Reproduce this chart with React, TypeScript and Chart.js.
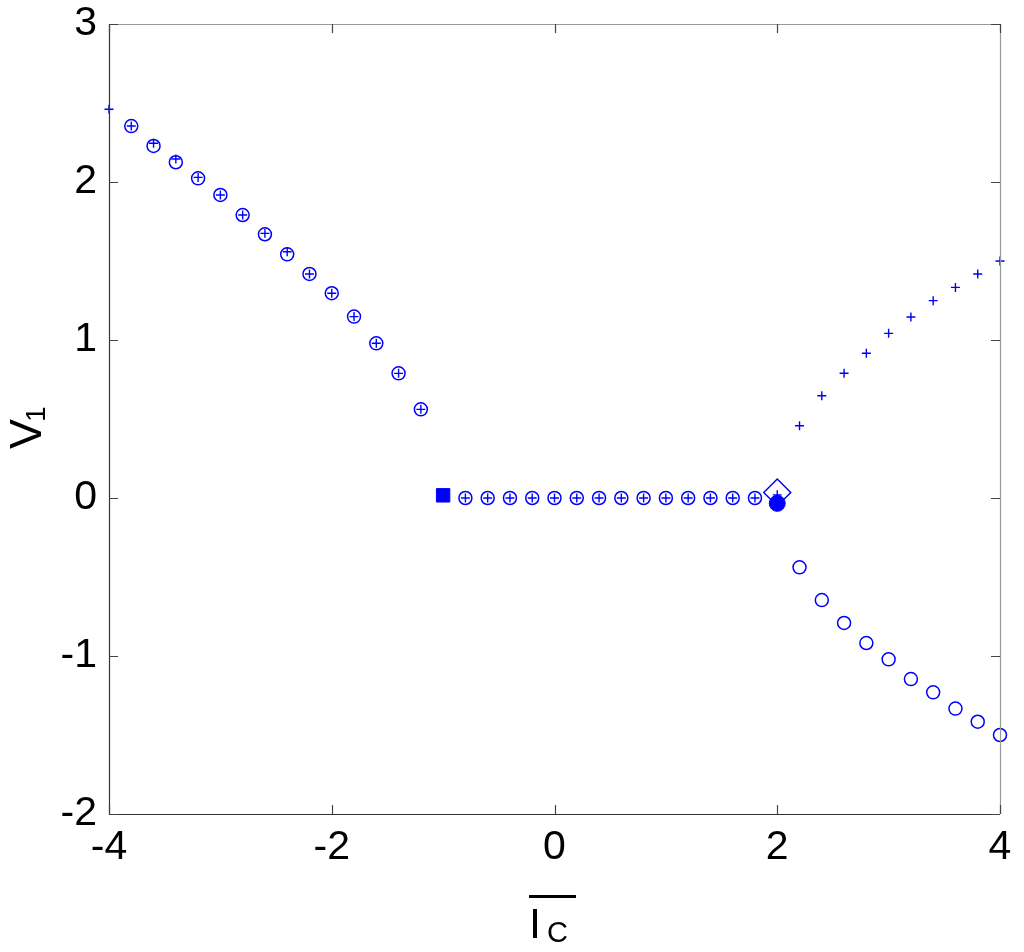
import React, { useEffect, useRef } from "react";
import { Chart, registerables } from "chart.js";

Chart.register(...registerables);

// Stable branch (circles and pluses overlap), left side
const leftX = [-3.8, -3.6, -3.4, -3.2, -3.0, -2.8, -2.6, -2.4, -2.2, -2.0, -1.8, -1.6, -1.4, -1.2];
const leftCircleY = [2.354, 2.228, 2.125, 2.023, 1.918, 1.791, 1.669, 1.542, 1.418, 1.296, 1.148, 0.979, 0.789, 0.561];
const leftPlusX = [-4.0, -3.8, -3.6, -3.4, -3.2, -3.0, -2.8, -2.6, -2.4, -2.2, -2.0, -1.8, -1.6, -1.4, -1.2];
const leftPlusY = [2.46, 2.354, 2.245, 2.146, 2.029, 1.918, 1.791, 1.675, 1.559, 1.418, 1.296, 1.148, 0.979, 0.789, 0.561];

// Middle branch V1 = 0
const midX = [-0.8, -0.6, -0.4, -0.2, 0.0, 0.2, 0.4, 0.6, 0.8, 1.0, 1.2, 1.4, 1.6, 1.8];
const midY = [0, 0, 0, 0, 0, 0, 0, 0, 0, 0, 0, 0, 0, 0];

// Right side: bifurcated branches
const rightX = [2.2, 2.4, 2.6, 2.8, 3.0, 3.2, 3.4, 3.6, 3.8, 4.0];
const rightPlusY = [0.457, 0.647, 0.79, 0.916, 1.042, 1.146, 1.249, 1.333, 1.418, 1.5];
const rightCircleY = [-0.439, -0.646, -0.791, -0.918, -1.021, -1.146, -1.23, -1.333, -1.416, -1.5];

// Special points
const squarePoint = { x: -1.0, y: 0.017 };
const diamondPoint = { x: 2.0, y: 0.035 };
const filledPoint = { x: 2.0, y: -0.034 };
const plusAtTwo = { x: 2.0, y: 0.02 };

// Axis ticks
const xTicks = [-4, -2, 0, 2, 4];
const yTicks = [-2, -1, 0, 1, 2, 3];

const BLUE = "#0000ff";
const FONT = "'Liberation Sans', Arial, sans-serif";

const zip = (xs: number[], ys: number[]) => xs.map((x, i) => ({ x, y: ys[i] }));

const framePlugin = {
  id: "matlabFrame",
  afterDraw(chart: any) {
    const { ctx, chartArea } = chart;
    const { left, right, top, bottom } = chartArea;
    const xs = chart.scales.x;
    const ys = chart.scales.y;
    ctx.save();
    // frame
    ctx.lineWidth = 1.2;
    ctx.strokeStyle = "#999999";
    ctx.beginPath();
    ctx.moveTo(left, top + 0.5);
    ctx.lineTo(right + 0.5, top + 0.5);
    ctx.lineTo(right + 0.5, bottom);
    ctx.stroke();
    ctx.strokeStyle = "#333333";
    ctx.beginPath();
    ctx.moveTo(left + 0.5, top);
    ctx.lineTo(left + 0.5, bottom + 0.5);
    ctx.lineTo(right, bottom + 0.5);
    ctx.stroke();
    // ticks inward
    const tl = 9;
    ctx.strokeStyle = "#444444";
    ctx.lineWidth = 1.2;
    ctx.beginPath();
    for (const v of xTicks) {
      const px = Math.round(xs.getPixelForValue(v)) + 0.5;
      ctx.moveTo(px, bottom);
      ctx.lineTo(px, bottom - tl);
      ctx.moveTo(px, top);
      ctx.lineTo(px, top + tl);
    }
    for (const v of yTicks) {
      const py = Math.round(ys.getPixelForValue(v)) + 0.5;
      ctx.moveTo(left, py);
      ctx.lineTo(left + tl, py);
      ctx.moveTo(right, py);
      ctx.lineTo(right - tl, py);
    }
    ctx.stroke();

    // y title: V with subscript 1, rotated
    ctx.fillStyle = "#000";
    ctx.translate(41, 449);
    ctx.rotate(-Math.PI / 2);
    ctx.textAlign = "left";
    ctx.textBaseline = "alphabetic";
    ctx.font = `45px ${FONT}`;
    ctx.fillText("V", 0, 0);
    const vw = ctx.measureText("V").width;
    ctx.font = `28px ${FONT}`;
    ctx.fillText("1", vw - 3, 4);
    ctx.setTransform(1, 0, 0, 1, 0, 0);

    // x title: I with subscript C and overline
    ctx.font = `43px ${FONT}`;
    ctx.fillText("I", 529, 938);
    const iw = ctx.measureText("I").width;
    ctx.font = `29px ${FONT}`;
    ctx.fillText("C", 529 + iw + 6, 942);
    ctx.fillRect(529, 895, 47, 3);
    ctx.restore();
  },
};

export default function App() {
  const ref = useRef<HTMLCanvasElement | null>(null);

  useEffect(() => {
    if (!ref.current) return;
    const chart = new Chart(ref.current, {
      type: "scatter",
      data: {
        datasets: [
          {
            label: "filled",
            data: [filledPoint],
            pointStyle: "circle",
            pointRadius: 8,
            backgroundColor: BLUE,
            borderColor: BLUE,
            borderWidth: 1,
            clip: false,
          },
          {
            label: "diamond",
            data: [diamondPoint],
            pointStyle: "rectRot",
            pointRadius: 13.5,
            backgroundColor: "rgba(0,0,0,0)",
            borderColor: BLUE,
            borderWidth: 1.5,
            clip: false,
          },
          {
            label: "square",
            data: [squarePoint],
            pointStyle: "rect",
            pointRadius: 9.5,
            backgroundColor: BLUE,
            borderColor: BLUE,
            borderWidth: 1,
            clip: false,
          },
          {
            label: "plus",
            data: [
              ...zip(leftPlusX, leftPlusY),
              ...zip(midX, midY),
              plusAtTwo,
              ...zip(rightX, rightPlusY),
            ],
            pointStyle: "cross",
            pointRadius: 4.5,
            backgroundColor: BLUE,
            borderColor: BLUE,
            borderWidth: 1.4,
            clip: false,
          },
          {
            label: "circles",
            data: [
              ...zip(leftX, leftCircleY),
              ...zip(midX, midY),
              ...zip(rightX, rightCircleY),
            ],
            pointStyle: "circle",
            pointRadius: 6.5,
            backgroundColor: "rgba(0,0,0,0)",
            borderColor: BLUE,
            borderWidth: 1.5,
            clip: false,
          },
        ],
      },
      options: {
        animation: false,
        responsive: true,
        maintainAspectRatio: false,
        events: [],
        layout: { padding: { top: 24, right: 24, left: 0, bottom: 0 } },
        plugins: {
          legend: { display: false },
          tooltip: { enabled: false },
          title: { display: false },
        },
        scales: {
          x: {
            type: "linear",
            min: -4,
            max: 4,
            afterFit: (s: any) => {
              s.height = 138;
            },
            afterBuildTicks: (s: any) => {
              s.ticks = xTicks.map((v) => ({ value: v }));
            },
            grid: { display: false, drawTicks: false },
            border: { display: false },
            ticks: {
              font: { size: 41, family: FONT },
              color: "#000",
              padding: 9,
              maxRotation: 0,
              autoSkip: false,
              callback: (v: any) => String(v),
            },
          },
          y: {
            type: "linear",
            min: -2,
            max: 3,
            afterFit: (s: any) => {
              s.width = 109;
            },
            afterBuildTicks: (s: any) => {
              s.ticks = yTicks.map((v) => ({ value: v }));
            },
            grid: { display: false, drawTicks: false },
            border: { display: false },
            ticks: {
              font: { size: 41, family: FONT, lineHeight: 0.5 },
              color: "#000",
              padding: 12,
              autoSkip: false,
              callback: (v: any) => String(v),
            },
          },
        },
      },
      plugins: [framePlugin],
    });
    return () => chart.destroy();
  }, []);

  return (
    <div style={{ position: "absolute", left: 0, top: 0, width: 1024, height: 952, background: "#fff" }}>
      <canvas ref={ref} />
    </div>
  );
}
